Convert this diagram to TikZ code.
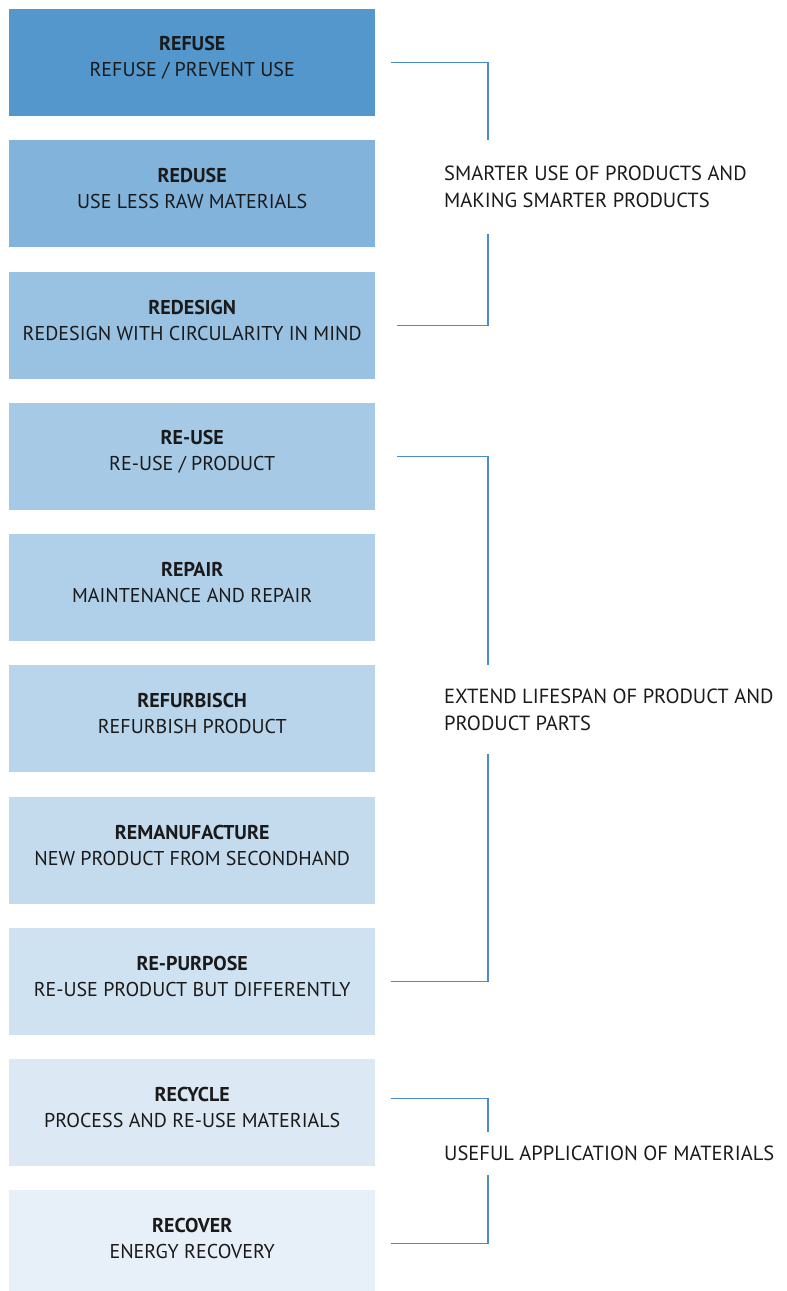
\documentclass[tikz,border=0pt]{standalone}
\usepackage{fontspec}
\setmainfont{PT Sans}
\usepackage{tikz}

\definecolor{refusec}{HTML}{5497CC}
\definecolor{redusec}{HTML}{82B3DB}
\definecolor{redesignc}{HTML}{98C1E2}
\definecolor{reusec}{HTML}{A6CAE6}
\definecolor{repairc}{HTML}{B0CFE9}
\definecolor{refurbc}{HTML}{B9D5EB}
\definecolor{remanc}{HTML}{C4DBEE}
\definecolor{repurpc}{HTML}{CFE2F2}
\definecolor{recyclec}{HTML}{DCE8F4}
\definecolor{recoverc}{HTML}{E7EFF8}
\definecolor{linkblue}{HTML}{4A8BC9}
\definecolor{inkc}{HTML}{1A1A1A}

\begin{document}
\begin{tikzpicture}[x=1pt,y=-1pt,
    stepbox/.style={anchor=north west,minimum width=366pt,minimum height=107pt,inner sep=0pt},
    steptext/.style={align=center,text=inkc,font=\fontsize{20}{26}\selectfont,yshift=5pt},
    grouptext/.style={anchor=west,align=left,inner sep=0pt,text=inkc,font=\fontsize{20.5}{27}\selectfont},
    link/.style={draw=linkblue,line width=1.2pt}]
    \useasboundingbox (0,0) rectangle (787,1291);
    \clip (0,0) rectangle (787,1291);

    \node[stepbox,fill=refusec]   (refuse)   at (9,9)    {};
    \node[stepbox,fill=redusec]   (reduse)   at (9,140)  {};
    \node[stepbox,fill=redesignc] (redesign) at (9,272)  {};
    \node[stepbox,fill=reusec]    (reuse)    at (9,403)  {};
    \node[stepbox,fill=repairc]   (repair)   at (9,534)  {};
    \node[stepbox,fill=refurbc]   (refurb)   at (9,665)  {};
    \node[stepbox,fill=remanc]    (reman)    at (9,797)  {};
    \node[stepbox,fill=repurpc]   (repurp)   at (9,928)  {};
    \node[stepbox,fill=recyclec]  (recycle)  at (9,1059) {};
    \node[stepbox,fill=recoverc]  (recover)  at (9,1190) {};

    \node[steptext] (refuse-t)   at (refuse)   {\textbf{REFUSE}\\REFUSE / PREVENT USE};
    \node[steptext] (reduse-t)   at (reduse)   {\textbf{REDUSE}\\USE LESS RAW MATERIALS};
    \node[steptext] (redesign-t) at (redesign) {\textbf{REDESIGN}\\REDESIGN WITH CIRCULARITY IN MIND};
    \node[steptext] (reuse-t)    at (reuse)    {\textbf{RE-USE}\\RE-USE / PRODUCT};
    \node[steptext] (repair-t)   at (repair)   {\textbf{REPAIR}\\MAINTENANCE AND REPAIR};
    \node[steptext] (refurb-t)   at (refurb)   {\textbf{REFURBISCH}\\REFURBISH PRODUCT};
    \node[steptext] (reman-t)    at (reman)    {\textbf{REMANUFACTURE}\\NEW PRODUCT FROM SECONDHAND};
    \node[steptext] (repurp-t)   at (repurp)   {\textbf{RE-PURPOSE}\\RE-USE PRODUCT BUT DIFFERENTLY};
    \node[steptext] (recycle-t)  at (recycle)  {\textbf{RECYCLE}\\PROCESS AND RE-USE MATERIALS};
    \node[steptext] (recover-t)  at (recover)  {\textbf{RECOVER}\\ENERGY RECOVERY};

    % group labels
    \node[grouptext,minimum height=93pt] (smart)  at (444,187)    {SMARTER USE OF PRODUCTS AND\\MAKING SMARTER PRODUCTS};
    \node[grouptext,minimum height=89pt] (extend) at (444,709.5)  {EXTEND LIFESPAN OF PRODUCT AND\\PRODUCT PARTS};
    \node[grouptext,minimum height=43pt] (useful) at (444,1153.5) {USEFUL APPLICATION OF MATERIALS};
    \coordinate (spine) at (488,0);

    % brackets
    \draw[link] ([xshift=16pt]refuse.east)   -| (spine |- smart.north);
    \draw[link] ([xshift=22pt]redesign.east) -| (spine |- smart.south);
    \draw[link] ([xshift=22pt]reuse.east)    -| (spine |- extend.north);
    \draw[link] ([xshift=16pt]repurp.east)   -| (spine |- extend.south);
    \draw[link] ([xshift=16pt,yshift=14pt]recycle.east) -| (spine |- useful.north);
    \draw[link] ([xshift=16pt]recover.east)  -| (spine |- useful.south);
\end{tikzpicture}
\end{document}
